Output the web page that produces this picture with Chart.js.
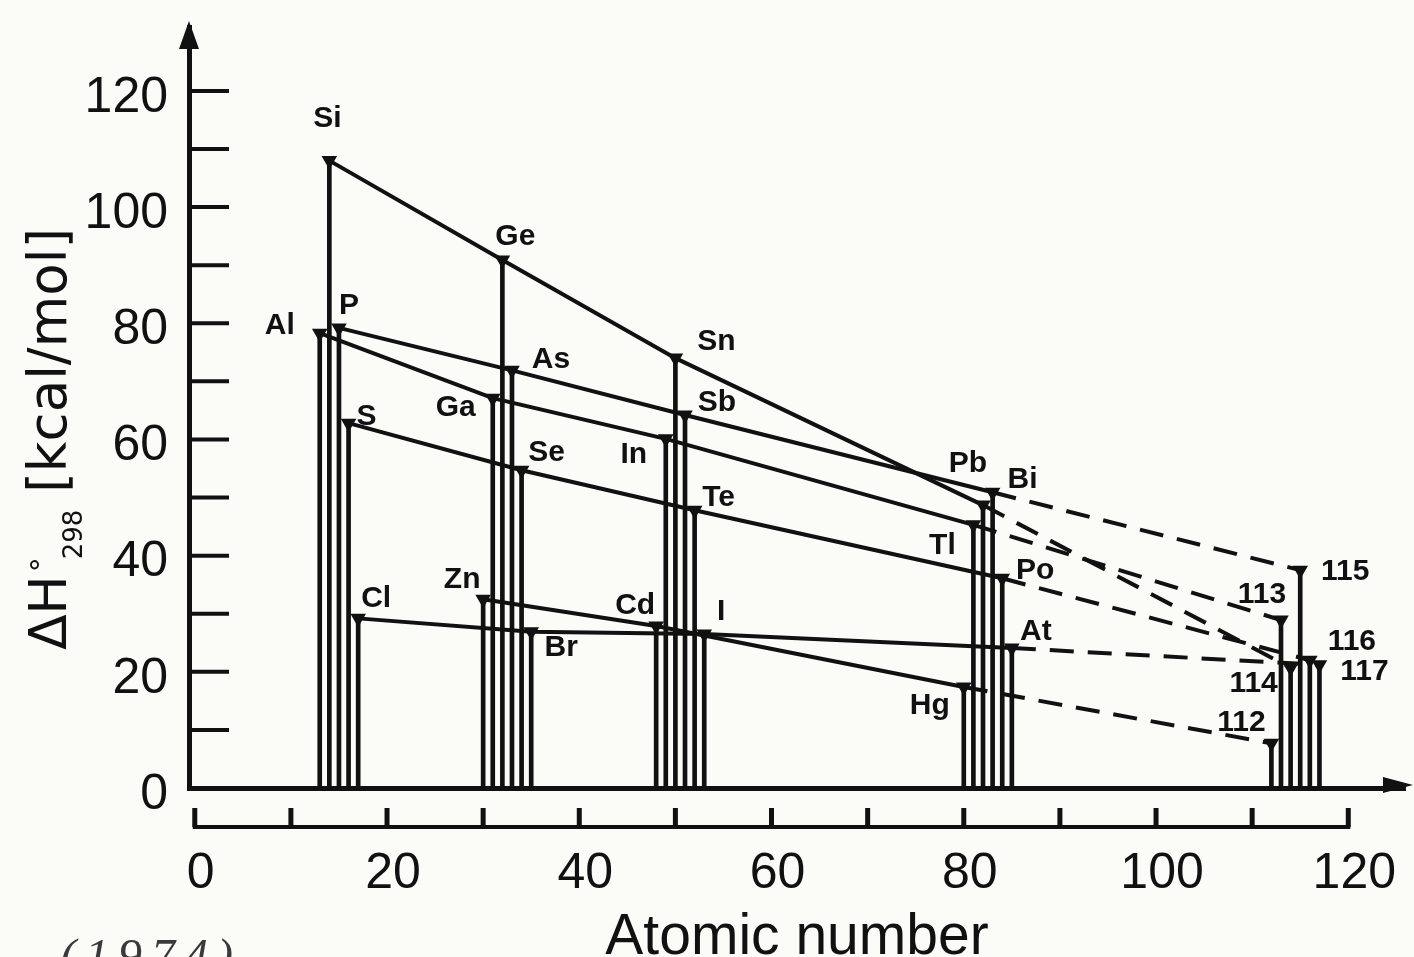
<!DOCTYPE html>
<html>
<head>
<meta charset="utf-8">
<script src="https://cdn.jsdelivr.net/npm/chart.js@4.4.1/dist/chart.umd.min.js"></script>
<style>
  html, body { margin: 0; padding: 0; background: #fbfbf8; }
  #wrap { width: 1414px; height: 957px; }
</style>
</head>
<body>
<div id="wrap"><canvas id="c" width="1414" height="957"></canvas></div>
<script>
// one array per group of the periodic table: atomic number, dH298 (kcal/mol), label
const g12Z = [30, 48, 80, 112];
const g12H = [32.5, 27.9, 17.4, 7.7];
const g12L = ["Zn", "Cd", "Hg", "112"];

const g13Z = [13, 31, 49, 81, 113];
const g13H = [78.3, 67.1, 60.1, 45.3, 28.9];
const g13L = ["Al", "Ga", "In", "Tl", "113"];

const g14Z = [14, 32, 50, 82, 114];
const g14H = [108, 90.9, 74.0, 48.7, 20.7];
const g14L = ["Si", "Ge", "Sn", "Pb", "114"];

const g15Z = [15, 33, 51, 83, 115];
const g15H = [79.2, 71.9, 64.2, 50.9, 37.5];
const g15L = ["P", "As", "Sb", "Bi", "115"];

const g16Z = [16, 34, 52, 84, 116];
const g16H = [62.8, 54.7, 47.8, 36.1, 22.0];
const g16L = ["S", "Se", "Te", "Po", "116"];

const g17Z = [17, 35, 53, 85, 117];
const g17H = [29.2, 26.9, 26.5, 24.1, 21.2];
const g17L = ["Cl", "Br", "I", "At", "117"];

const xTickLabels = [0, 20, 40, 60, 80, 100, 120];
const yTickLabels = [0, 20, 40, 60, 80, 100, 120];
const rulerTicks = [0, 10, 20, 30, 40, 50, 60, 70, 80, 90, 100, 110, 120];
const yMarks = [10, 20, 30, 40, 50, 60, 70, 80, 90, 100, 110, 120];

// where each element label sits relative to its point (px)
const labelOff = {
  Si: [-2, -42], Ge: [13, -23], Sn: [41, -16], Pb: [-15, -41], "114": [-37, 16],
  Al: [-40, -7], Ga: [-37, 10], In: [-32, 16], Tl: [-31, 21], "113": [-19, -25],
  P: [10, -22], As: [39, -11], Sb: [32, -12], Bi: [30, -13], "115": [45, 2],
  S: [18, -6], Se: [25, -18], Te: [24, -13], Po: [33, -8], "116": [42, -18],
  Cl: [18, -20], Br: [30, 16], I: [17, -22], At: [24, -16], "117": [45, 7],
  Zn: [-21, -19], Cd: [-21, -20], Hg: [-34, 19], "112": [-30, -21]
};

const ink = "#111";
const groups = [
  [g12Z, g12H, g12L], [g13Z, g13H, g13L], [g14Z, g14H, g14L],
  [g15Z, g15H, g15L], [g16Z, g16H, g16L], [g17Z, g17H, g17L]
];

const pts = (Z, H) => Z.map((z, i) => ({ x: z, y: H[i] }));

const lineSets = groups.map(([Z, H, L]) => ({
  type: "line",
  data: pts(Z, H),
  labels: L,
  borderColor: ink,
  borderWidth: 4,
  pointStyle: "triangle",
  pointRotation: 180,
  pointRadius: 5,
  pointBackgroundColor: ink,
  pointBorderColor: ink,
  tension: 0,
  order: 1,
  segment: {
    // extrapolated part to the superheavies is dashed
    borderDash: c => c.p1.parsed.x > 100 ? [24, 14] : undefined
  }
}));

const dropSet = {
  type: "bar",
  data: groups.flatMap(([Z, H]) => pts(Z, H)),
  backgroundColor: ink,
  borderWidth: 0,
  barThickness: 4,
  order: 2
};

// fixed axis sizes, no automatic edge padding
const fixBox = (s, w, h) => {
  if (w) s.width = w;
  if (h) s.height = h;
  s.paddingTop = s.paddingBottom = s.paddingLeft = s.paddingRight = 0;
};

const deco = {
  id: "deco",
  afterDatasetsDraw(chart) {
    const { ctx } = chart;
    ctx.save();
    ctx.fillStyle = ink;
    ctx.font = "bold 30px 'Liberation Sans', Arial, sans-serif";
    ctx.textAlign = "center";
    ctx.textBaseline = "middle";
    chart.data.datasets.forEach((ds, i) => {
      if (!ds.labels) return;
      chart.getDatasetMeta(i).data.forEach((el, j) => {
        const off = labelOff[ds.labels[j]] || [0, -20];
        ctx.fillText(ds.labels[j], el.x + off[0], el.y + off[1]);
      });
    });
    ctx.restore();
  },
  afterDraw(chart) {
    const { ctx, chartArea: a, scales: { x, y } } = chart;
    ctx.save();
    ctx.strokeStyle = ink;
    ctx.fillStyle = ink;

    // inward tick marks on the y axis
    ctx.lineWidth = 4;
    yMarks.forEach(v => {
      const py = y.getPixelForValue(v);
      ctx.beginPath();
      ctx.moveTo(a.left, py);
      ctx.lineTo(a.left + 40, py);
      ctx.stroke();
    });

    // x axis runs on to the canvas edge, arrow heads at both axis ends
    const xEnd = chart.width - 1;
    ctx.lineWidth = 5;
    ctx.beginPath();
    ctx.moveTo(a.right - 2, a.bottom);
    ctx.lineTo(xEnd - 20, a.bottom - 1);
    ctx.stroke();
    ctx.beginPath();
    ctx.moveTo(xEnd, a.bottom - 3);
    ctx.lineTo(xEnd - 30, a.bottom - 11);
    ctx.lineTo(xEnd - 30, a.bottom + 5);
    ctx.closePath();
    ctx.fill();
    ctx.beginPath();
    ctx.moveTo(a.left, a.top - 6);
    ctx.lineTo(a.left - 10, a.top + 22);
    ctx.lineTo(a.left + 10, a.top + 22);
    ctx.closePath();
    ctx.fill();

    // ruler under the axis
    const yr = a.bottom + 39;
    ctx.lineWidth = 4;
    ctx.beginPath();
    ctx.moveTo(x.getPixelForValue(0) - 2, yr);
    ctx.lineTo(x.getPixelForValue(120) + 2, yr);
    ctx.stroke();
    ctx.lineWidth = 5;
    rulerTicks.forEach(v => {
      const px = x.getPixelForValue(v);
      ctx.beginPath();
      ctx.moveTo(px, yr);
      ctx.lineTo(px, yr - 19);
      ctx.stroke();
    });

    // x axis title
    ctx.font = "57px 'Liberation Sans', Arial, sans-serif";
    ctx.textAlign = "center";
    ctx.textBaseline = "alphabetic";
    ctx.fillText("Atomic number", 797, 954);

    // y axis title with super/subscript
    ctx.translate(66, 650);
    ctx.rotate(-Math.PI / 2);
    ctx.textAlign = "left";
    ctx.font = "52px 'DejaVu Sans', sans-serif";
    ctx.fillText("ΔH", 0, 0);
    let w = ctx.measureText("ΔH").width;
    ctx.font = "30px 'DejaVu Sans', sans-serif";
    ctx.fillText("°", w + 3, -14);
    ctx.font = "26px 'DejaVu Sans', sans-serif";
    ctx.fillText("298", w + 16, 16);
    w += 16 + ctx.measureText("298").width;
    ctx.font = "53px 'DejaVu Sans', sans-serif";
    ctx.fillText(" [kcal/mol]", w, 0);
    ctx.restore();

    // pencil note at the bottom edge
    ctx.save();
    ctx.fillStyle = "#3a3a3a";
    ctx.font = "italic 48px 'Liberation Serif', serif";
    ctx.letterSpacing = "9px";
    ctx.fillText("(1974)", 60, 972);
    ctx.restore();
  }
};

new Chart(document.getElementById("c"), {
  type: "bar",
  data: { datasets: [dropSet, ...lineSets] },
  options: {
    responsive: false,
    animation: false,
    events: [],
    layout: { padding: { top: 27, right: 0, bottom: 0, left: 0 } },
    plugins: { legend: { display: false }, tooltip: { enabled: false } },
    scales: {
      x: {
        type: "linear",
        min: -0.6,
        max: 125.9,
        offset: false,
        grid: { display: false },
        border: { display: true, color: ink, width: 5 },
        afterBuildTicks: s => { s.ticks = xTickLabels.map(v => ({ value: v })); },
        afterFit: s => fixBox(s, 0, 169),
        ticks: {
          color: ink,
          font: { family: "'Liberation Sans', Arial, sans-serif", size: 50 },
          padding: 48,
          labelOffset: 6,
          maxRotation: 0,
          autoSkip: false
        }
      },
      y: {
        min: 0,
        max: 131,
        grid: { display: false },
        border: { display: true, color: ink, width: 5 },
        afterBuildTicks: s => { s.ticks = yTickLabels.map(v => ({ value: v })); },
        afterFit: s => fixBox(s, 189, 0),
        ticks: {
          color: ink,
          font: { family: "'Liberation Sans', Arial, sans-serif", size: 50 },
          padding: 13,
          labelOffset: 7
        }
      }
    }
  },
  plugins: [deco]
});
</script>
</body>
</html>
